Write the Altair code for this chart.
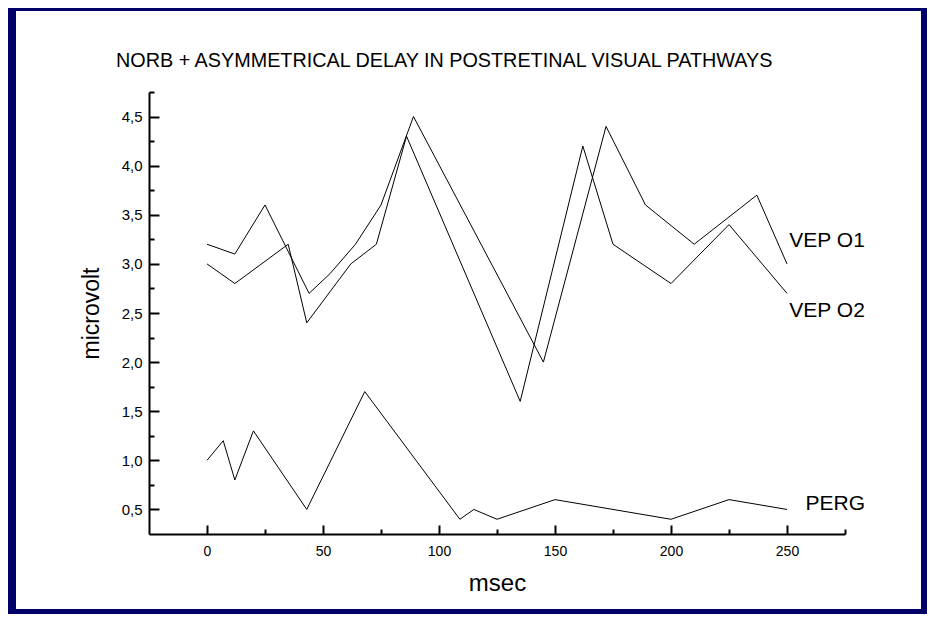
import altair as alt
import pandas as pd

# ---- data ----
o1_x = [0, 12, 25, 44, 53, 64, 75, 89, 145, 172, 189, 210, 237, 250]
o1_y = [3.2, 3.1, 3.6, 2.7, 2.9, 3.2, 3.6, 4.5, 2.0, 4.4, 3.6, 3.2, 3.7, 3.0]
o2_x = [0, 12, 35, 43, 62, 73, 86, 135, 162, 175, 200, 225, 250]
o2_y = [3.0, 2.8, 3.2, 2.4, 3.0, 3.2, 4.3, 1.6, 4.2, 3.2, 2.8, 3.4, 2.7]
perg_x = [0, 7, 12, 20, 43, 68, 109, 115, 125, 150, 200, 225, 250]
perg_y = [1.0, 1.2, 0.8, 1.3, 0.5, 1.7, 0.4, 0.5, 0.4, 0.6, 0.4, 0.6, 0.5]

label_text = ["VEP O1", "VEP O2", "PERG"]
label_x = [251, 251, 258]
label_y = [3.23, 2.52, 0.56]

x_major = [0, 50, 100, 150, 200, 250]
x_minor = [25, 75, 125, 175, 225, 275]
y_major = [0.5, 1.0, 1.5, 2.0, 2.5, 3.0, 3.5, 4.0, 4.5]
y_minor = [0.75, 1.25, 1.75, 2.25, 2.75, 3.25, 3.75, 4.25, 4.75]
x_domain = [-25, 275]
y_domain = [0.25, 4.75]

title_text = "NORB + ASYMMETRICAL DELAY IN POSTRETINAL VISUAL PATHWAYS"

rows = []
for name, xs_, ys_ in (("VEP O1", o1_x, o1_y), ("VEP O2", o2_x, o2_y), ("PERG", perg_x, perg_y)):
    for a, b in zip(xs_, ys_):
        rows.append({"series": name, "ms": a, "uv": b})
df = pd.DataFrame(rows)
lab_df = pd.DataFrame({"t": label_text, "x": label_x, "y": label_y})

FONT = "Liberation Sans, Arial, sans-serif"
W, H = 696, 442
xs = alt.Scale(domain=x_domain, nice=False, zero=False)
ys = alt.Scale(domain=y_domain, nice=False, zero=False)

panel = alt.Chart(alt.Data(values=[{}])).mark_rect(color="white").encode(
    x=alt.value(-133), x2=alt.value(772), y=alt.value(-81), y2=alt.value(517)
)

lines = alt.Chart(df).mark_line(color="black", strokeWidth=1).encode(
    x=alt.X("ms:Q", scale=xs, axis=alt.Axis(
        orient="bottom", values=x_major, ticks=False, grid=False, domainWidth=2,
        labelFontSize=14, labelPadding=10, format="d",
        title="msec", titleFontSize=24, titlePadding=13, zindex=1)),
    y=alt.Y("uv:Q", scale=ys, axis=alt.Axis(
        orient="left", values=y_major, ticks=False, grid=False, domainWidth=2,
        labelFontSize=15, labelPadding=7,
        labelExpr="replace(format(datum.value, '.1f'), '.', ',')",
        title="microvolt", titleFontSize=23, titlePadding=18, zindex=1)),
    detail="series:N",
)

ticks_major = alt.Chart(df).mark_point(opacity=0).encode(
    x=alt.X("ms:Q", scale=xs, axis=alt.Axis(
        orient="top", offset=-H, values=x_major, labels=False, domain=False,
        grid=False, tickSize=9, tickWidth=2, title=None, zindex=1)),
    y=alt.Y("uv:Q", scale=ys, axis=alt.Axis(
        orient="right", offset=-W, values=y_major, labels=False, domain=False,
        grid=False, tickSize=10, tickWidth=2, title=None, zindex=1)),
)

ticks_minor = alt.Chart(df).mark_point(opacity=0).encode(
    x=alt.X("ms:Q", scale=xs, axis=alt.Axis(
        orient="top", offset=-H, values=x_minor, labels=False, domain=False,
        grid=False, tickSize=5, tickWidth=2, title=None, zindex=1)),
    y=alt.Y("uv:Q", scale=ys, axis=alt.Axis(
        orient="right", offset=-W, values=y_minor, labels=False, domain=False,
        grid=False, tickSize=5, tickWidth=2, title=None, zindex=1)),
)

labels = alt.Chart(lab_df).mark_text(
    align="left", baseline="middle", fontSize=21, font=FONT, color="black"
).encode(
    x=alt.X("x:Q", scale=xs, axis=None),
    y=alt.Y("y:Q", scale=ys, axis=None),
    text="t:N",
)

chart = alt.layer(panel, lines, ticks_major, ticks_minor, labels).resolve_scale(
    x="independent", y="independent"
).properties(
    width=W, height=H,
    background="#000066",
    padding={"left": 141, "top": 84, "right": 82, "bottom": 80},
    autosize=alt.AutoSizeParams(type="none"),
    title=alt.TitleParams(
        text=title_text, anchor="start", frame="group", dx=-33, offset=-76,
        baseline="alphabetic", font=FONT, fontSize=19.8, fontWeight="normal",
        color="black", zindex=1),
).configure_view(stroke=None).configure_axis(
    labelFont=FONT, titleFont=FONT, labelColor="black", titleColor="black",
    tickColor="black", domainColor="black", titleFontWeight="normal",
)

chart.save("out.html", embed_options={"renderer": "svg", "actions": False})
